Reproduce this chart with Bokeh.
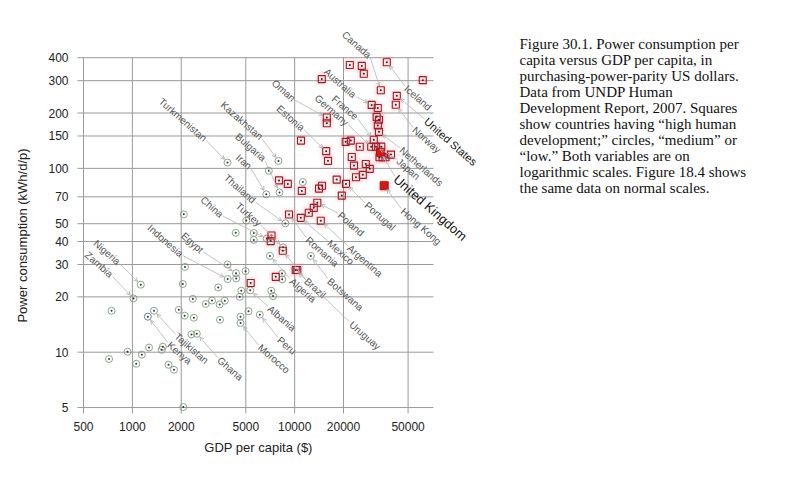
from math import log10, hypot, pi
from bokeh.plotting import figure
from bokeh.models import Range1d, FixedTicker, Label, Arrow, OpenHead, ColumnDataSource
from bokeh.embed import file_html
from bokeh.resources import INLINE

# ---------------- data (GDP per capita $, power kWh/d/p) ----------------
high_gdp = [21870, 25930, 26670, 36970, 14700, 61600, 33950, 42600, 42000, 29830,
            32530, 15780, 15780, 32020, 33090, 32530, 33090, 10940, 20630, 22180,
            30730, 25200, 29620, 31710, 34200, 33320, 34780, 36280, 39230, 15640,
            16050, 22500, 23210, 27440, 29040, 26300, 23880, 18160, 8010, 9075,
            11070, 14740, 14130, 20720, 19520, 13790, 13120, 12220, 9230, 10910,
            14490, 7200, 7120, 8450, 10150, 10380, 7650, 5360]
high_power = [365, 361, 327, 378, 306, 302, 266, 248, 222, 221.5,
              213, 189, 176, 190.7, 183.7, 171.2, 158, 141.6, 139.4, 141.6,
              143, 131, 131, 131, 131.3, 114.9, 114.9, 114.9, 118.8, 124.1,
              109.9, 115.4, 103.5, 105.7, 99.4, 92.2, 89.4, 86.9, 86, 82.3,
              75.4, 80.4, 77.6, 82.3, 71.1, 65, 61, 57.3, 56.1, 53.8,
              51.9, 43.1, 40.2, 35.6, 28, 28, 25.7, 23.8]

hl_country = ["United Kingdom", "Hong Kong"]
hl_gdp = [33810, 35620]
hl_power = [122.3, 80.4]

med_gdp = [3856, 7950, 6930, 11230, 8065, 6690, 2075, 5036, 8760, 4335,
           5600, 5600, 6735, 8475, 7050, 12580, 3856, 2110, 4350, 4980,
           8360, 3868, 4365, 8380, 1127, 2045, 3380, 4690, 5320, 7170,
           4590, 7355, 1016, 2357, 2830, 3095, 3452, 3707, 744, 1359,
           1245, 1932, 2101, 2391, 3467, 4638, 5195, 6100, 4638, 2314,
           2495, 933, 1143, 1266, 1540, 1516, 718, 1056, 1670, 1805, 2060]
med_power = [107.5, 109.8, 97, 84.2, 74, 72.2, 56.2, 52, 50.2, 44.6,
             44.5, 40.8, 41.5, 37.2, 33.4, 33.4, 30, 29.1, 26.9, 27.6,
             26.8, 25, 25.2, 24.9, 23.3, 23.5, 22.5, 21.6, 21.7, 21.6,
             20, 20.2, 19.6, 19.5, 18.3, 19.1, 18.2, 19.05, 16.8, 16.8,
             15.6, 17, 15.8, 15.4, 15, 15.6, 16.7, 16, 14.4, 12.5,
             12.6, 10.06, 9.7, 10.6, 10.7, 10.3, 9.18, 8.65, 8.54, 8.03, 5.03]
kenya_index = 40

x_ticks = [500, 1000, 2000, 5000, 10000, 20000, 50000]
y_ticks = [5, 10, 20, 30, 40, 50, 70, 100, 150, 200, 300, 400]
x_bounds = (459, 71700)
y_bounds = (4.64, 401)
x_title = "GDP per capita ($)"
y_title = "Power consumption (kWh/d/p)"

# country labels: name, group, index into group arrays
label_names = ["Turkmenistan", "Kazakhstan", "Bulgaria", "Iran", "Thailand", "China",
               "Turkey", "Indonesia", "Egypt", "Nigeria", "Zambia", "Canada",
               "Australia", "France", "Germany", "Oman", "Estonia",
               "Iceland", "United States", "Norway", "Netherlands", "Japan",
               "United Kingdom", "Hong Kong", "Portugal", "Poland", "Argentina",
               "Mexico", "Romania", "Botswana", "Uruguay", "Brazil", "Algeria",
               "Albania", "Peru", "Morocco", "Ghana", "Tajikistan", "Kenya"]
label_group = ["c", "c", "c", "c", "c", "c", "c", "c", "c", "c", "c", "s",
               "s", "s", "s", "s", "s",
               "s", "s", "s", "s", "s", "h", "h", "s", "s", "s",
               "s", "s", "c", "s", "s", "c", "c", "c", "c", "c", "c", "c"]
label_index = [0, 1, 4, 5, 8, 12, 13, 21, 18, 24, 32, 6,
               9, 20, 22, 11, 29,
               3, 7, 8, 16, 23, 0, 1, 43, 45, 50,
               49, 48, 15, 54, 53, 14, 28, 47, 48, 50, 39, 40]

# ---------------- layout (screen pixel placement of labels) ----------------
label_offset = [(-22, -23), (-17, -23), (-15, -33), (-16, -27), (-31, -22), (-45, -23),
                (-23, -23), (-46, -24), (-34, -22), (-22, -22), (-22, -23), (-11, -34),
                (-17, -9), (-17, -22), (-24, -23), (-33, -18), (-23, -22),
                (19, 25), (29, 24), (18, 24), (22, 17), (22, 13),
                (15, 25), (18, 24), (20, 20), (22, 11), (28, 26),
                (28, 24), (18, 24), (18, 24), (55, 53), (23, 29), (21, 24),
                (19, 17), (19, 24), (19, 23), (22, 25), (22, 24), (21, 27)]

W, H = 794, 478
GL, GB = 77, 413                    # grid left / bottom, canvas px
PPX, PPY = 162.28, 183.83          # pixels per decade
X0 = 10 ** (log10(x_bounds[0]) - GL / PPX)
X1 = 10 ** (log10(X0) + W / PPX)
Y0 = 10 ** (log10(y_bounds[0]) - (H - GB) / PPY)
Y1 = 10 ** (log10(Y0) + H / PPY)


def sx(v):
    return (log10(v) - log10(X0)) * PPX


def sy(v):
    return (log10(Y1) - log10(v)) * PPY


def ix(c):
    return 10 ** (log10(X0) + c / PPX)


def iy(c):
    return 10 ** (log10(Y1) - c / PPY)


p = figure(width=W, height=H, x_axis_type="log", y_axis_type="log",
           x_range=Range1d(X0, X1), y_range=Range1d(Y0, Y1),
           output_backend="svg", toolbar_location=None,
           min_border_left=0, min_border_right=0,
           min_border_top=0, min_border_bottom=0)
p.outline_line_color = None
p.background_fill_color = "white"
p.border_fill_color = "white"
p.xgrid.visible = False
p.ygrid.visible = False

for ax, ticks, bnd in ((p.xaxis, x_ticks, x_bounds), (p.yaxis, y_ticks, y_bounds)):
    ax.ticker = FixedTicker(ticks=ticks)
    ax.bounds = bnd
    ax.major_label_overrides = {t: str(t) for t in ticks}
    ax.axis_line_color = None
    ax.major_tick_line_color = None
    ax.minor_tick_line_color = None
    ax.major_tick_out = 0
    ax.major_tick_in = 0
    ax.minor_tick_out = 0
    ax.major_label_text_font = "Liberation Sans"
    ax.major_label_text_font_size = "12px"
    ax.major_label_text_color = "#222222"

p.xaxis.fixed_location = y_bounds[0]
p.yaxis.fixed_location = x_bounds[0]
p.xaxis.major_label_standoff = 8
p.yaxis.major_label_standoff = 9

# axis titles
p.add_layout(Label(x=ix(258), y=iy(447), text=x_title, text_align="center",
                   text_baseline="middle", text_font="Liberation Sans",
                   text_font_size="13px", text_color="#222222"))
p.add_layout(Label(x=ix(22), y=iy(235), text=y_title, text_align="center", angle=pi / 2,
                   text_baseline="middle", text_font="Liberation Sans",
                   text_font_size="13px", text_color="#222222"))

# grid lines at the tick values
p.segment(x0=x_ticks, y0=[y_bounds[0]] * len(x_ticks), x1=x_ticks, y1=[y_ticks[-1]] * len(x_ticks),
          line_color="#9a9a9a", line_width=1)
p.segment(x0=[x_bounds[0]] * len(y_ticks), y0=y_ticks, x1=[x_bounds[1]] * len(y_ticks), y1=y_ticks,
          line_color="#9a9a9a", line_width=1)

# glow around high-development squares
p.scatter(high_gdp + hl_gdp, high_power + hl_power, marker="square", size=14,
          fill_color="#ff6a6a", fill_alpha=0.07, line_color=None)
p.scatter(high_gdp + hl_gdp, high_power + hl_power, marker="square", size=10,
          fill_color="#ff7a7a", fill_alpha=0.12, line_color=None)

# leader lines and country labels
groups = {"s": (high_gdp, high_power), "c": (med_gdp, med_power), "h": (hl_gdp, hl_power)}
xs0, ys0, xs1, ys1 = [], [], [], []
for name, grp, idx, (dx, dy) in zip(label_names, label_group, label_index, label_offset):
    gx, gy = groups[grp][0][idx], groups[grp][1][idx]
    cx, cy = sx(gx), sy(gy)
    axp, ayp = cx + dx, cy + dy
    vx, vy = cx - axp, cy - ayp
    L = hypot(vx, vy)
    s0x, s0y = axp + vx * 1.5 / L, ayp + vy * 1.5 / L
    e0x, e0y = cx - vx * 4.5 / L, cy - vy * 4.5 / L
    xs0.append(ix(s0x)); ys0.append(iy(s0y)); xs1.append(ix(e0x)); ys1.append(iy(e0y))
    big = name in ("United Kingdom", "United States")
    p.add_layout(Label(x=ix(axp), y=iy(ayp), text=name, angle=-0.72,
                       text_align="right" if dx < 0 else "left", text_baseline="middle",
                       text_font="Liberation Sans",
                       text_font_size="13px" if name == "United Kingdom" else ("11px" if big else "10px"),
                       text_color="#111111" if big else "#555555"))

arrow_src = ColumnDataSource(dict(x0=xs0, y0=ys0, x1=xs1, y1=ys1))
p.add_layout(Arrow(source=arrow_src, x_start="x0", y_start="y0", x_end="x1", y_end="y1",
                   line_color="#b4b4b4", line_width=0.8,
                   end=OpenHead(size=4, line_color="#a8a8a8", line_width=0.8)))

# medium / low development circles
med_colors = ["#7f9a80"] * len(med_gdp)
med_colors[kenya_index] = "#4f74a8"
p.scatter(med_gdp, med_power, marker="circle", size=7, fill_color=None,
          line_color=med_colors, line_width=0.9)
p.scatter(med_gdp, med_power, marker="circle", size=2, fill_color="#333333", line_color=None)

# high development squares
p.scatter(high_gdp, high_power, marker="square", size=7, fill_color=None,
          line_color="#9b1c2c", line_width=1.1)
p.scatter(high_gdp, high_power, marker="circle", size=2, fill_color="#2a2a2a", line_color=None)
p.scatter(hl_gdp, hl_power, marker="square", size=8, fill_color="#d41818",
          line_color="#b01010", line_width=1)

# caption
caption = ["Figure 30.1. Power consumption per",
           "capita versus GDP per capita, in",
           "purchasing-power-parity US dollars.",
           "Data from UNDP Human",
           "Development Report, 2007. Squares",
           "show countries having \u201chigh human",
           "development;\u201d circles, \u201cmedium\u201d or",
           "\u201clow.\u201d Both variables are on",
           "logarithmic scales. Figure 18.4 shows",
           "the same data on normal scales."]
for i, line in enumerate(caption):
    p.add_layout(Label(x=ix(519), y=iy(43.3 + 16.04 * i), text=line,
                       text_align="left", text_baseline="middle",
                       text_font="Liberation Serif", text_font_size="15px",
                       text_color="#111111"))

open("out.html", "w").write(file_html(p, INLINE))
